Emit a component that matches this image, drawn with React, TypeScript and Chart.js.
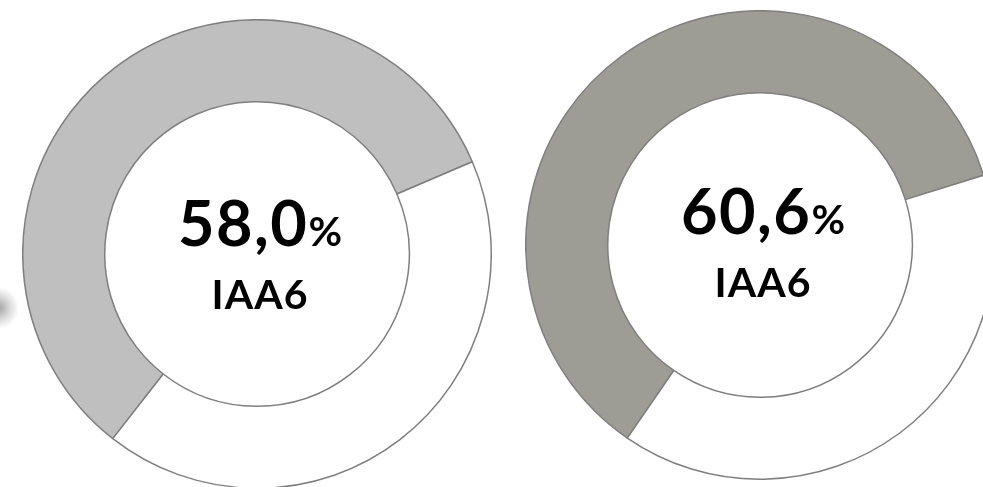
import React, { useEffect, useRef } from "react";
import { Chart, registerables } from "chart.js";

Chart.register(...registerables);

const categories = ["IAA6", "Resto"];
const leftValues = [58.0, 42.0];
const rightValues = [60.6, 39.4];
const valueLabels = ["58,0", "60,6"];
const seriesName = "IAA6";

const fillColors = ["#bfbfbf", "#9d9d95"];
const borderCol = "#7f7f7f";

type RingProps = {
  values: number[];
  color: string;
  rotation: number;
  left: number;
  top: number;
  size: number;
};

function Ring({ values, color, rotation, left, top, size }: RingProps) {
  const ref = useRef<HTMLCanvasElement>(null);
  useEffect(() => {
    if (!ref.current) return;
    const chart = new Chart(ref.current, {
      type: "doughnut",
      data: {
        labels: categories,
        datasets: [
          {
            data: values,
            backgroundColor: [color, "#ffffff"],
            borderColor: borderCol,
            borderWidth: 1.5,
            hoverOffset: 0,
          },
        ],
      },
      options: {
        responsive: false,
        animation: false,
        rotation,
        cutout: "65%",
        layout: { padding: 0 },
        events: [],
        plugins: {
          legend: { display: false },
          tooltip: { enabled: false },
        },
      },
    });
    return () => chart.destroy();
  }, []);
  return (
    <canvas
      ref={ref}
      width={size}
      height={size}
      style={{ position: "absolute", left, top, width: size, height: size }}
    />
  );
}

function CenterLabel({ value, cx, baseline }: { value: string; cx: number; baseline: number }) {
  const font = "Lato, 'Open Sans', sans-serif";
  return (
    <>
      <div
        style={{
          position: "absolute",
          left: cx - 150,
          width: 300,
          top: baseline - 63,
          height: 80,
          textAlign: "center",
          fontFamily: font,
          fontWeight: 700,
          fontSize: 63,
          lineHeight: "80px",
          letterSpacing: 1.5,
          color: "#000",
          whiteSpace: "nowrap",
        }}
      >
        {value}
        <span style={{ fontSize: 41, letterSpacing: 0 }}>%</span>
      </div>
      <div
        style={{
          position: "absolute",
          left: cx - 100,
          width: 200,
          top: baseline + 21,
          height: 56,
          textAlign: "center",
          fontFamily: font,
          fontWeight: 700,
          fontSize: 41,
          lineHeight: "56px",
          letterSpacing: 1,
          color: "#000",
          whiteSpace: "nowrap",
        }}
      >
        {seriesName}
      </div>
    </>
  );
}

export default function App() {
  return (
    <div
      style={{
        position: "absolute",
        left: 0,
        top: 0,
        width: 983,
        height: 487,
        overflow: "hidden",
        background: "#ffffff",
      }}
    >
      <div
        style={{
          position: "absolute",
          left: -22,
          top: 288,
          width: 40,
          height: 40,
          borderRadius: "50%",
          background: "radial-gradient(circle, rgba(150,150,150,0.9) 0%, rgba(190,190,190,0.5) 45%, rgba(255,255,255,0) 75%)",
        }}
      />
      <Ring values={leftValues} color={fillColors[0]} rotation={218} left={22} top={19} size={470} />
      <Ring values={rightValues} color={fillColors[1]} rotation={214.5} left={525} top={10} size={470} />
      <CenterLabel value={valueLabels[0]} cx={260} baseline={245} />
      <CenterLabel value={valueLabels[1]} cx={763} baseline={233} />
    </div>
  );
}
